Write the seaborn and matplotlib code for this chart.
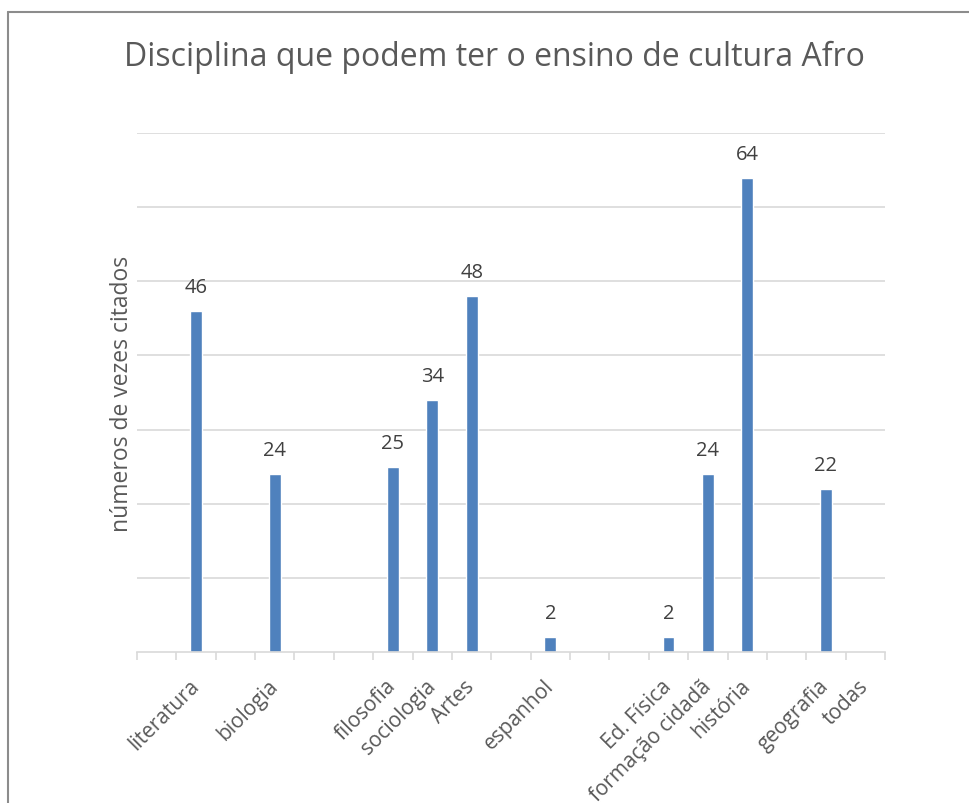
import matplotlib

matplotlib.use("Agg")
import matplotlib.pyplot as plt
import numpy as np
import pandas as pd
import seaborn as sns
from matplotlib.lines import Line2D

# category slots as laid out in the original spreadsheet (blank = empty row)
categories = ["", "literatura", "", "biologia", "", "", "filosofia", "sociologia",
              "Artes", "", "espanhol", "", "", "Ed. Física", "formação cidadã",
              "história", "", "geografia", "todas"]
counts = [np.nan, 46, np.nan, 24, np.nan, np.nan, 25, 34, 48, np.nan, 2,
          np.nan, np.nan, 2, 24, 64, np.nan, 22, np.nan]

TITLE = "Disciplina que podem ter o ensino de cultura Afro"
YLABEL = "números de vezes citados"
BLUE, GRID, TXT, LBL = "#4f81bd", "#d9d9d9", "#595959", "#404040"

sns.set_theme(style="white")
plt.rcParams["font.family"] = ["Open Sans", "DejaVu Sans"]

df = pd.DataFrame({"slot": range(len(categories)), "n": counts})

fig = plt.figure(figsize=(9.69, 8.04), dpi=100)
ax = fig.add_axes([0.1414, 0.1878, 0.7719, 0.6455])
sns.barplot(data=df, x="slot", y="n", order=list(range(len(categories))),
            color=BLUE, width=0.3, saturation=1, ax=ax)

ax.set_ylim(0, 70)
ax.set_yticks(np.arange(10, 71, 10))
ax.yaxis.grid(True, color=GRID, lw=1.2)
ax.set_axisbelow(True)
ax.tick_params(axis="y", length=0, labelleft=False)
for s in ["top", "right", "left"]:
    ax.spines[s].set_visible(False)
ax.spines["bottom"].set_color(GRID)
ax.spines["bottom"].set_linewidth(1.2)
ax.set_xlim(-0.5, len(categories) - 0.5)

# category labels at centres, tick marks on boundaries (Excel style)
ax.set_xticks(range(len(categories)))
ax.set_xticklabels(categories, rotation=45, ha="right", va="center",
                   rotation_mode="anchor", fontsize=15, color=TXT)
ax.tick_params(axis="x", which="major", length=0, pad=22)
ax.set_xticks(np.arange(-0.5, len(categories), 1), minor=True)
ax.tick_params(axis="x", which="minor", length=6, width=1.2, color=GRID, bottom=True)

for i, v in enumerate(counts):
    if not np.isnan(v):
        ax.annotate(f"{v:.0f}", (i, v), xytext=(0, 10), textcoords="offset points",
                    ha="center", va="bottom", fontsize=14.5, color=LBL)

ax.set_xlabel("")
ax.set_ylabel(YLABEL, fontsize=16.5, color=TXT, labelpad=2)
fig.text(0.51, 0.929, TITLE, ha="center", va="center", fontsize=23, color=TXT)

# chart frame (only left/top visible in the crop)
fig.add_artist(Line2D([0.0083, 0.0083], [0, 0.984], color="#8c8c8c", lw=1.5))
fig.add_artist(Line2D([0.0083, 1.0], [0.984, 0.984], color="#8c8c8c", lw=1.5))

fig.savefig("out.png", dpi=100)
